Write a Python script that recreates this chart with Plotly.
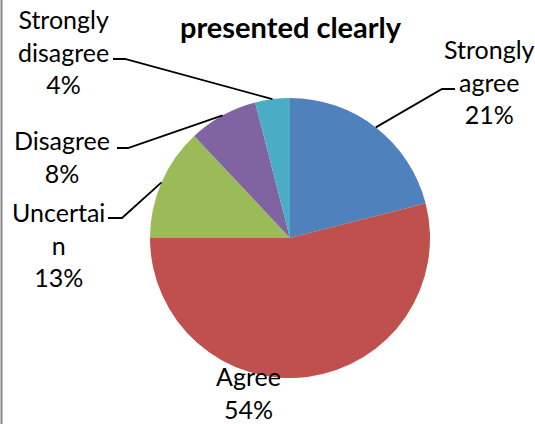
import math
import plotly.graph_objects as go

# ---- data ----
categories = ["Strongly agree", "Agree", "Uncertain", "Disagree", "Strongly disagree"]
values = [21, 54, 13, 8, 4]
label_texts = ["Strongly<br>agree<br>21%", "Agree<br>54%", "Uncertai<br>n<br>13%",
               "Disagree<br>8%", "Strongly<br>disagree<br>4%"]
title_text = "presented clearly"

# ---- layout / style ----
W, H = 535, 424
colors = ["#4F81BD", "#C0504D", "#9BBB59", "#8064A2", "#4BACC6"]
cx, cy, R = 290, 238, 140          # pie centre / radius in pixels
label_pos = [(489, 81), (248, 392), (58, 244), (62, 157), (63, 52)]
# horizontal stub of leader line: (x_far, x_near, y); None = no leader
stubs = [(455, 442, 89), None, (108, 122, 218), (117, 128, 148), (113, 125, 59)]
FONT = "Lato, Carlito, Calibri, sans-serif"


def px(x):
    return x / W


def py(y):
    return 1 - y / H


fig = go.Figure(go.Pie(
    labels=categories, values=values, sort=False, direction="clockwise",
    rotation=0, marker=dict(colors=colors, line=dict(width=0)),
    textinfo="none", hoverinfo="label+percent", showlegend=False,
    domain=dict(x=[px(cx - R), px(cx + R)], y=[py(cy + R), py(cy - R)]),
))

annotations = [dict(text="<b>%s</b>" % title_text, x=px(291), y=py(26),
                    xref="paper", yref="paper", showarrow=False,
                    xanchor="center", yanchor="middle",
                    font=dict(family=FONT, size=29, color="#000"))]
shapes = []
total = sum(values)
cum = 0
for i, v in enumerate(values):
    mid = (cum + v / 2) / total * 2 * math.pi
    cum += v
    lx, ly = label_pos[i]
    annotations.append(dict(text=label_texts[i], x=px(lx), y=py(ly),
                            xref="paper", yref="paper", showarrow=False,
                            xanchor="center", yanchor="middle", align="center",
                            font=dict(family=FONT, size=25, color="#000")))
    if stubs[i] is not None:
        x0, x1, ys = stubs[i]
        ex = cx + R * math.sin(mid)
        ey = cy - R * math.cos(mid)
        path = "M %f %f L %f %f L %f %f" % (px(x0), py(ys), px(x1), py(ys), px(ex), py(ey))
        shapes.append(dict(type="path", path=path, xref="paper", yref="paper",
                           line=dict(color="#000", width=1.8)))

shapes.append(dict(type="line", x0=px(1.5), x1=px(1.5), y0=0, y1=1,
                   xref="paper", yref="paper", line=dict(color="#868686", width=2)))

fig.update_layout(width=W, height=H, margin=dict(l=0, r=0, t=0, b=0),
                  paper_bgcolor="white", plot_bgcolor="white",
                  annotations=annotations, shapes=shapes)
fig.write_html("out.html", config={"displayModeBar": False},
               post_script="document.body.style.margin='0';document.body.style.padding='0';")
